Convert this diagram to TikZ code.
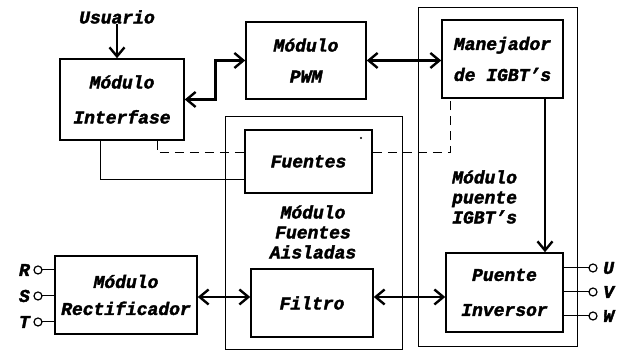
\documentclass[tikz,border=0pt]{standalone}
\usepackage{fontspec}
\setmainfont{Liberation Mono}[BoldItalicFeatures={FakeBold=2}]
\usetikzlibrary{arrows.meta,calc}
\begin{document}
\begin{tikzpicture}[x=1pt,y=-1pt,
  lbl/.style={font=\fontsize{18}{20}\selectfont\bfseries\itshape, inner sep=0pt},
  box/.style={draw, line width=1.5pt, align=center, inner sep=0pt,
    font=\fontsize{18}{20}\selectfont\bfseries\itshape},
  outer/.style={draw, line width=1pt},
  thin/.style={line width=1pt},
  heavy/.style={line width=2.8pt},
  dsh/.style={line width=1pt, dash pattern=on 9pt off 6pt},
  tip/.tip={Straight Barb[length=9pt,width=15pt,line width=2.4pt]},
  term/.style={draw=black, circle, line width=1.2pt, minimum size=8pt, inner sep=0pt, fill=white}
]
\useasboundingbox (0,0) rectangle (625,352);
% outer modules
\draw[outer] (225,117) rectangle (402,350);
\draw[outer] (418,8) rectangle (577,347);
% boxes
\node[box, minimum width=124pt, minimum height=81pt] (interfase) at (122,99.5)
  {M\'odulo\\[15pt]Interfase};
\node[box, minimum width=120pt, minimum height=77pt] (pwm) at (306,60.5)
  {M\'odulo\\[11pt]PWM};
\node[box, minimum width=121pt, minimum height=78pt] (manejador) at (502.5,59)
  {Manejador\\[11pt]de IGBT's};
\node[box, minimum width=127pt, minimum height=63pt] (fuentes) at (308.5,161.5)
  {Fuentes};
\node[box, minimum width=122pt, minimum height=68pt] (filtro) at (312,303)
  {Filtro};
\node[box, minimum width=142pt, minimum height=78pt] (rect) at (126,295)
  {M\'odulo\\[7pt]Rectificador};
\node[box, minimum width=117pt, minimum height=79pt] (puente) at (504.5,292.5)
  {Puente\\[15pt]Inversor};
% labels
\node[lbl] (usuario) at (117,17) {Usuario};
\node[lbl, align=center] (aisladas) at (313,232) {M\'odulo\\Fuentes\\Aisladas};
\node[lbl, align=left, anchor=west] (igbtlbl) at (452,197) {M\'odulo\\puente\\IGBT's};
\fill (361,138) circle (1.2pt);
% terminal wires
\coordinate (rc) at (38,270);
\coordinate (sc) at (38,296);
\coordinate (tc) at (38,322);
\coordinate (uc) at (593,268);
\coordinate (vc) at (593,292);
\coordinate (wc) at (593,316);
\draw[thin] (rc) -- (rc -| rect.west);
\draw[thin] (sc) -- (sc -| rect.west);
\draw[thin] (tc) -- (tc -| rect.west);
\draw[thin] (uc) -- (uc -| puente.east);
\draw[thin] (vc) -- (vc -| puente.east);
\draw[thin] (wc) -- (wc -| puente.east);
% terminals
\node[term] (r) at (rc) {};
\node[term] (s) at (sc) {};
\node[term] (t) at (tc) {};
\node[term] (u) at (uc) {};
\node[term] (v) at (vc) {};
\node[term] (w) at (wc) {};
\node[lbl, anchor=east] (rl) at (30,270) {R};
\node[lbl, anchor=east] (sl) at (30,296) {S};
\node[lbl, anchor=east] (tl) at (30,322) {T};
\node[lbl, anchor=west] (ul) at (603,268) {U};
\node[lbl, anchor=west] (vl) at (603,292) {V};
\node[lbl, anchor=west] (wl) at (603,316) {W};
% connectors
\draw[heavy, -tip] (usuario.south) -- (usuario.south |- interfase.north);
\draw[heavy, tip-tip] (pwm.west) -- ++(-30,0) |- (interfase.east);
\draw[line width=2.2pt, tip-tip] (pwm.east) -- (pwm.east -| manejador.west);
\draw[thin] ($(pwm.south)+(-26,0)$) -- ($(pwm.south)+(-26,0)$ |- fuentes.north);
\draw[thin] ($(pwm.south)+(24,0)$) -- ($(pwm.south)+(24,0)$ |- fuentes.north);
\draw[thin] (interfase.south -| 100,0) |- (fuentes.west |- 0,180);
\draw[dsh] (interfase.south -| 157,0) |- (fuentes.west |- 0,153);
\draw[dsh] (fuentes.east |- 0,153) -| (manejador.south -| 450,0);
\draw[heavy, -tip] (manejador.south -| 545,0) -- (puente.north -| 545,0);
\draw[heavy, tip-tip] (rect.east |- 0,297) -- (filtro.west |- 0,297);
\draw[heavy, tip-tip] (filtro.east |- 0,297) -- (puente.west |- 0,297);
\end{tikzpicture}
\end{document}
